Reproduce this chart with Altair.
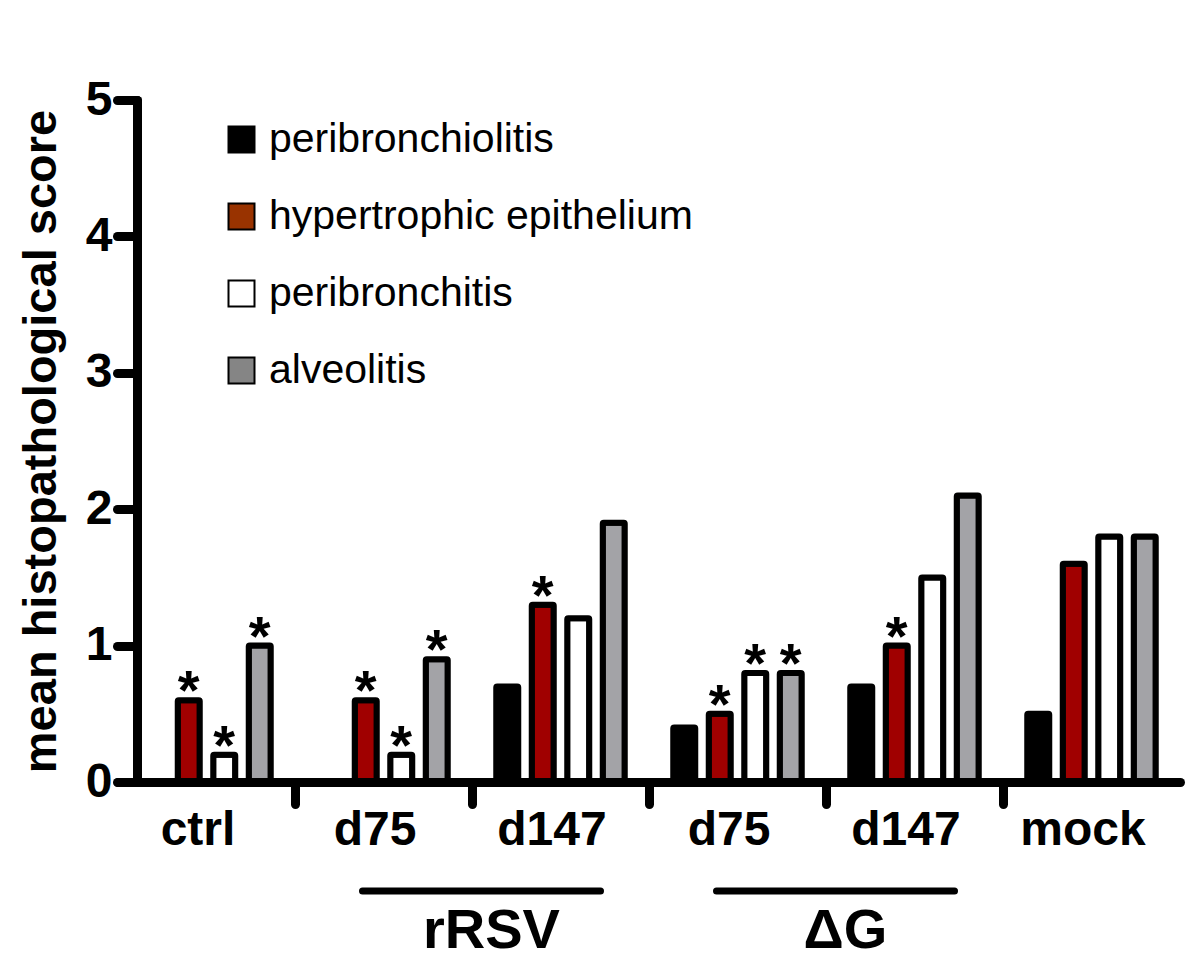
import altair as alt
import pandas as pd

# ---- data ----
groups = ["ctrl", "rRSV d75", "rRSV d147", "ΔG d75", "ΔG d147", "mock"]
categories = ["peribronchiolitis", "hypertrophic epithelium", "peribronchitis", "alveolitis"]

peribronchiolitis = [None, None, 0.7, 0.4, 0.7, 0.5]
hypertrophic_epithelium = [0.6, 0.6, 1.3, 0.5, 1.0, 1.6]
peribronchitis = [0.2, 0.2, 1.2, 0.8, 1.5, 1.8]
alveolitis = [1.0, 0.9, 1.9, 0.8, 2.1, 1.8]

sig_peribronchiolitis = [False, False, False, False, False, False]
sig_hypertrophic = [True, True, True, True, True, False]
sig_peribronchitis = [True, True, False, True, False, False]
sig_alveolitis = [True, True, False, True, False, False]

bracket_names = ["rRSV", "ΔG"]
bracket_start = ["rRSV d75", "ΔG d75"]
bracket_end = ["rRSV d147", "ΔG d147"]

y_ticks = [0, 1, 2, 3, 4, 5]
y_title = "mean histopathological score"

bar_colors = ["#000000", "#a00000", "#ffffff", "#a3a3a7"]
legend_colors = ["#000000", "#993300", "#ffffff", "#858585"]

series = [peribronchiolitis, hypertrophic_epithelium, peribronchitis, alveolitis]
sigs = [sig_peribronchiolitis, sig_hypertrophic, sig_peribronchitis, sig_alveolitis]
rows = []
for cat, vals, sg in zip(categories, series, sigs):
    for g, v, s in zip(groups, vals, sg):
        rows.append({"group": g, "category": cat, "value": v, "sig": s})
df = pd.DataFrame(rows)
df_bars = df.dropna(subset=["value"])

bracket_df = pd.DataFrame({"group": bracket_start, "group_end": bracket_end, "name": bracket_names})
legend_df = pd.DataFrame({"category": categories})

FONT = "Liberation Sans"

x_scale = alt.Scale(domain=groups, paddingInner=0, paddingOuter=0)
xo_scale = alt.Scale(domain=categories, paddingInner=0.38, paddingOuter=0.683)
y_scale = alt.Scale(domain=[0, 5], nice=False, zero=True)

x_axis = alt.Axis(
    title=None,
    bandPosition=0,
    domainColor="black", domainWidth=9, domainCap="round",
    tickColor="black", tickWidth=9, tickCap="round", tickSize=22,
    tickOpacity={"condition": {"test": "datum.value === 'ctrl'", "value": 0}, "value": 1},
    labelFont=FONT, labelFontSize=48, labelFontWeight="bold", labelColor="black",
    labelAngle=0, labelPadding=2, labelOffset=-8.5, labelOverlap=False,
    labelExpr="replace(replace(datum.label, 'rRSV ', ''), 'ΔG ', '')",
    zindex=1,
)
y_axis = alt.Axis(
    title=y_title,
    titleFont=FONT, titleFontSize=47, titleFontWeight="bold", titleColor="black",
    titlePadding=20,
    values=y_ticks, format="d", grid=False, offset=-19,
    domainColor="black", domainWidth=9, domainCap="round",
    tickColor="black", tickWidth=9, tickCap="round", tickSize=20,
    labelFont=FONT, labelFontSize=48, labelFontWeight="bold", labelColor="black",
    labelPadding=5,
    zindex=1,
)

bars = alt.Chart(df_bars).mark_bar(
    stroke="black", strokeWidth=6, strokeJoin="round", cornerRadius=1
).encode(
    x=alt.X("group:N", scale=x_scale, axis=x_axis, title=None, sort=groups),
    xOffset=alt.XOffset("category:N", scale=xo_scale, sort=categories),
    y=alt.Y("value:Q", scale=y_scale, axis=y_axis, title=y_title),
    fill=alt.Fill("category:N", scale=alt.Scale(domain=categories, range=bar_colors), legend=None),
)

stars = alt.Chart(df_bars).transform_filter("datum.sig").mark_text(
    text="*", font=FONT, fontSize=56, fontWeight="bold", color="black",
    baseline="alphabetic", align="center", dy=9,
).encode(
    x=alt.X("group:N", scale=x_scale, title=None, sort=groups),
    xOffset=alt.XOffset("category:N", scale=xo_scale, sort=categories),
    y=alt.Y("value:Q", scale=y_scale, title=y_title),
)

bracket_lines = alt.Chart(bracket_df).mark_rule(
    color="black", strokeWidth=7, strokeCap="round", xOffset=-21, x2Offset=40
).encode(
    x=alt.X("group:N", scale=x_scale, title=None, bandPosition=0.5),
    x2="group_end:N",
    y=alt.value(791),
)

bracket_text = alt.Chart(bracket_df).mark_text(
    font=FONT, fontSize=56, fontWeight="bold", color="black",
    baseline="alphabetic", align="center", dx=108,
).encode(
    x=alt.X("group:N", scale=x_scale, title=None),
    y=alt.value(848),
    text="name:N",
)

legend_layer = alt.Chart(legend_df).mark_square(opacity=0).encode(
    fill=alt.Fill(
        "category:N",
        scale=alt.Scale(domain=categories, range=legend_colors),
        legend=alt.Legend(
            orient="none", legendX=103, legendY=19, title=None, padding=0,
            direction="vertical",
            labelFont=FONT, labelFontSize=41, labelColor="black", labelLimit=0,
            labelOffset=7, rowPadding=35,
            symbolType="square", symbolSize=676, symbolStrokeColor="black",
            symbolStrokeWidth=2, symbolOpacity=1,
        ),
    ),
)

chart = alt.layer(bars, stars, bracket_lines, bracket_text, legend_layer).resolve_scale(
    fill="independent"
).properties(
    width=1062, height=682,
    autosize=alt.AutoSizeParams(type="none"),
    padding={"left": 110, "top": 92, "right": 12, "bottom": 185},
).configure(
    font=FONT, background="white", view=alt.ViewConfig(stroke=None)
)

chart.save("out.html", embed_options={"renderer": "svg", "actions": False})
